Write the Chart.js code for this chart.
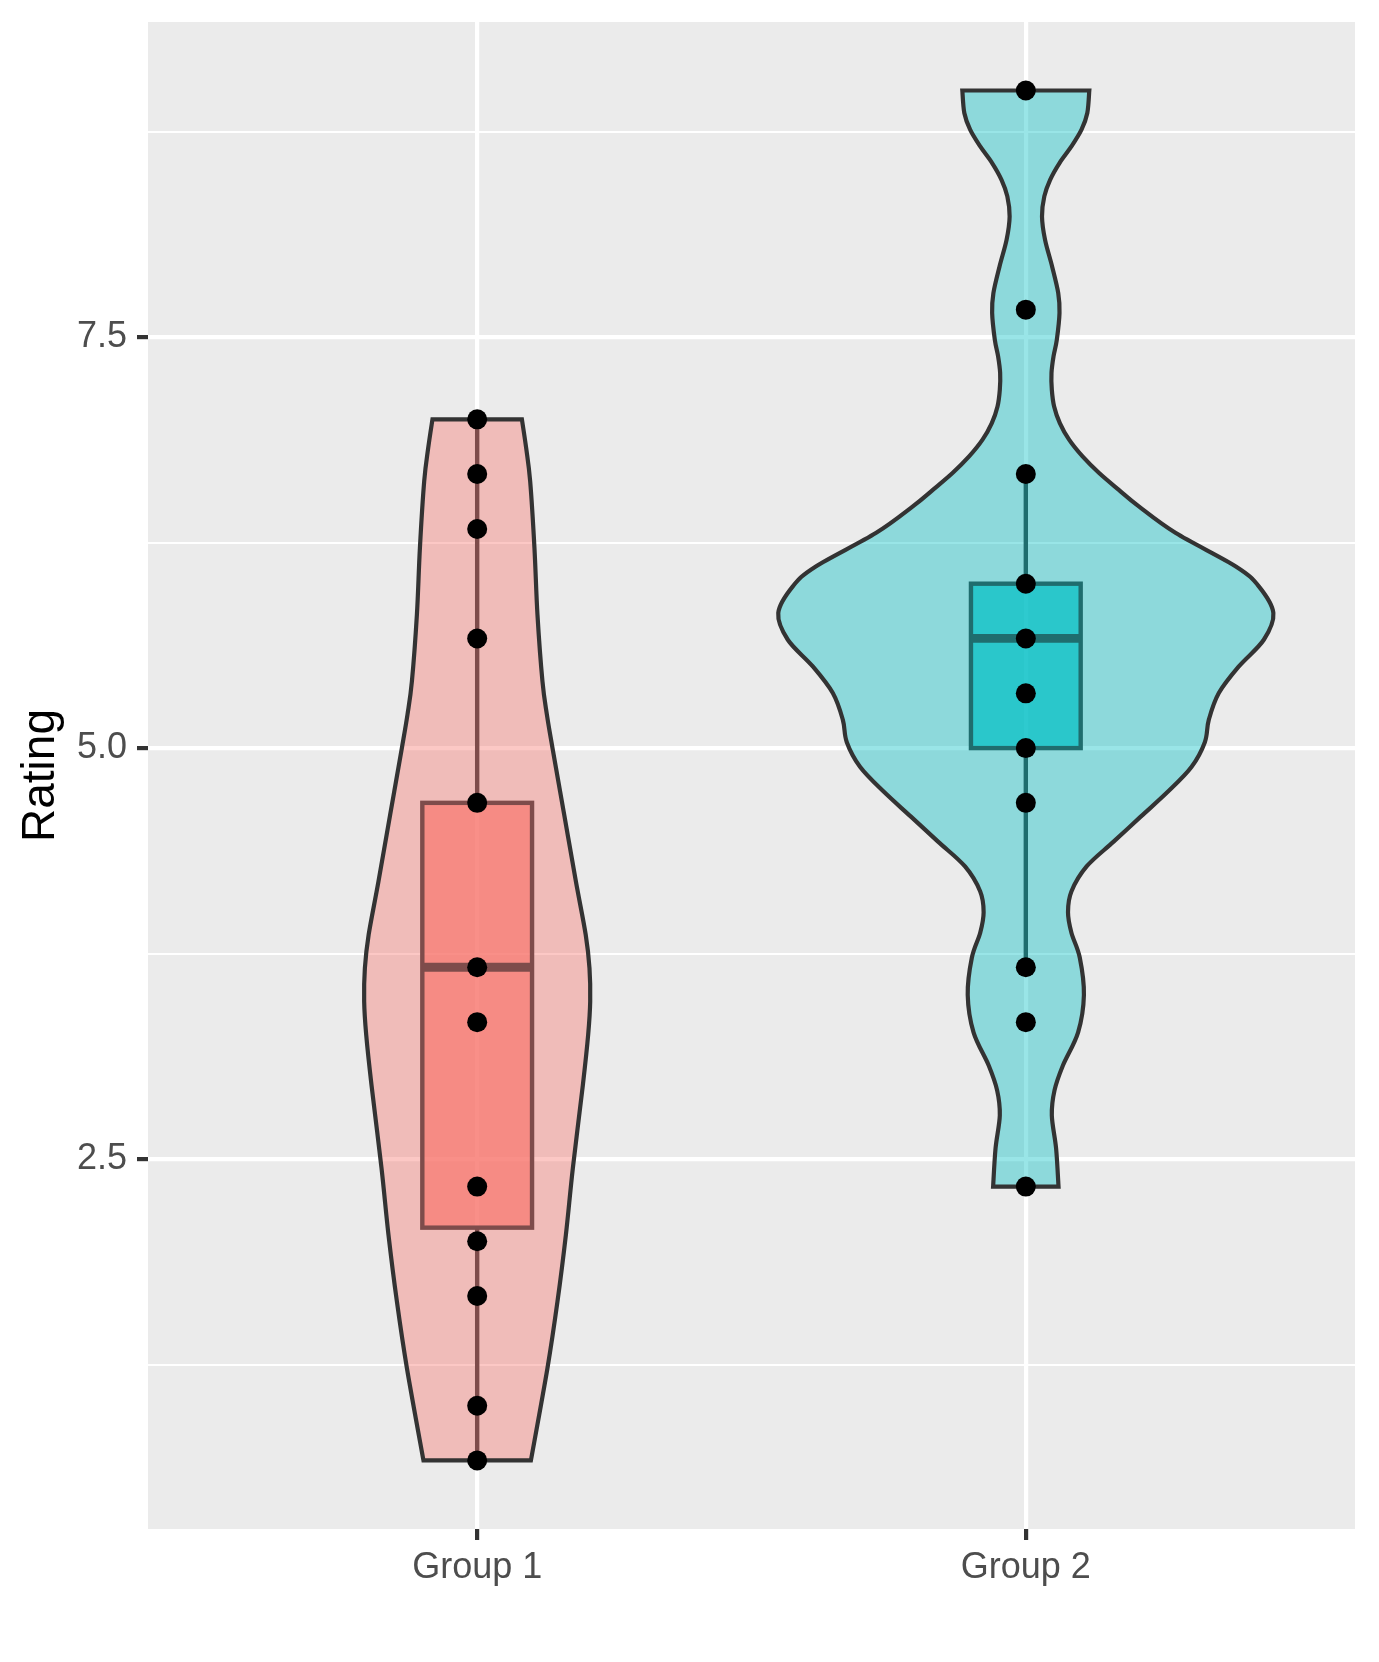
<!DOCTYPE html>
<html><head><meta charset="utf-8">
<script src="https://cdn.jsdelivr.net/npm/chart.js@4.4.1/dist/chart.umd.min.js"></script>
<style>html,body{margin:0;padding:0;background:#fff}canvas{display:block}</style>
</head><body>
<canvas id="c" width="1379" height="1662"></canvas>
<script>
// ---------- data ----------
const categories = ['Group 1', 'Group 2'];
const group1Ratings = [7, 6.667, 6.333, 5.667, 4.667, 3.667, 3.333, 2.333, 2, 1.667, 1, 0.667];
const group2Ratings = [9, 7.667, 6.667, 6, 5.667, 5.333, 5, 4.667, 3.667, 3.333, 2.333];

// box plot statistics per group
const whiskerLow  = [0.667, 3.667];
const quartile1   = [2.083, 5.0];
const medians     = [3.667, 5.667];
const quartile3   = [4.667, 6.0];
const whiskerHigh = [7.0, 6.667];

// violin outlines: rating level and half width (in category units)
const violin1Levels = [7.0, 6.825, 6.622, 6.217, 5.811, 5.406, 5.203, 5.0, 4.595, 4.189, 3.865, 3.662, 3.459, 3.257, 2.952, 2.446, 2.04, 1.635, 1.229, 0.667];
const violin1HalfWidths = [0.0815, 0.0893, 0.0966, 0.1044, 0.1099, 0.1190, 0.1271, 0.1373, 0.1586, 0.1799, 0.1978, 0.2047, 0.2060, 0.2023, 0.1927, 0.1744, 0.1617, 0.1464, 0.1281, 0.0979];
const violin2Levels = [9.0, 8.863, 8.762, 8.66, 8.559, 8.457, 8.356, 8.234, 8.093, 7.93, 7.768, 7.647, 7.484, 7.383, 7.282, 7.18, 7.078, 6.977, 6.876, 6.774, 6.673, 6.572, 6.47, 6.308, 6.105, 5.984, 5.822, 5.659, 5.497, 5.335, 5.173, 5.036, 4.885, 4.734, 4.583, 4.431, 4.28, 4.128, 4.002, 3.877, 3.725, 3.498, 3.271, 3.069, 2.918, 2.766, 2.565, 2.333];
const violin2HalfWidths = [0.1157, 0.1121, 0.1015, 0.0831, 0.0614, 0.0443, 0.0337, 0.0295, 0.0350, 0.0479, 0.0591, 0.0614, 0.0565, 0.0505, 0.0468, 0.0474, 0.0516, 0.0620, 0.0789, 0.1034, 0.1336, 0.1690, 0.2060, 0.2734, 0.3828, 0.4247, 0.4512, 0.4338, 0.3883, 0.3518, 0.3336, 0.3263, 0.3019, 0.2587, 0.2094, 0.1600, 0.1108, 0.0831, 0.0769, 0.0831, 0.0984, 0.1059, 0.0953, 0.0676, 0.0523, 0.0474, 0.0552, 0.0596];

// axis ticks
const yGridValues = [1.25, 2.5, 3.75, 5, 6.25, 7.5, 8.75];
const yMajorValues = [2.5, 5, 7.5];
const yMajorLabels = ['2.5', '5.0', '7.5'];
const yRange = [0.25, 9.4167];
const xRange = [0.4, 2.6];
const xTickValues = [1, 2];

// ---------- styles ----------
const FONT = "'Liberation Sans', Arial, Helvetica, sans-serif";
const violinFill = ['rgba(248,118,109,0.4)', 'rgba(0,191,196,0.4)'];
const boxFill = ['rgba(248,118,109,0.7)', 'rgba(0,191,196,0.7)'];
const boxLine = ['#7E4C4B', '#1F6D6E'];
const BOX_HALF = 0.1;

const violins = [
  {levels: violin1Levels, hw: violin1HalfWidths},
  {levels: violin2Levels, hw: violin2HalfWidths}
];

function splineThrough(ctx, p) {
  const n = p.length;
  for (let i = 0; i < n - 1; i++) {
    const p0 = p[Math.max(i - 1, 0)], p1 = p[i], p2 = p[i + 1], p3 = p[Math.min(i + 2, n - 1)];
    const c1x = p1.x + (p2.x - p0.x) / 6, c1y = p1.y + (p2.y - p0.y) / 6;
    const c2x = p2.x - (p3.x - p1.x) / 6, c2y = p2.y - (p3.y - p1.y) / 6;
    ctx.bezierCurveTo(c1x, c1y, c2x, c2y, p2.x, p2.y);
  }
}

const violinPlugin = {
  id: 'violinPlugin',
  beforeDraw(chart) {
    const {ctx, chartArea: a} = chart;
    ctx.save();
    ctx.fillStyle = '#EBEBEB';
    ctx.fillRect(a.left, a.top, a.right - a.left, a.bottom - a.top);
    ctx.restore();
  },
  beforeDatasetsDraw(chart) {
    const {ctx} = chart;
    const xs = chart.scales.x, ys = chart.scales.y;
    ctx.save();
    violins.forEach((vd, i) => {
      const cx = xTickValues[i];
      const left = vd.levels.map((v, k) => ({x: xs.getPixelForValue(cx - vd.hw[k]), y: ys.getPixelForValue(v)}));
      const right = vd.levels.map((v, k) => ({x: xs.getPixelForValue(cx + vd.hw[k]), y: ys.getPixelForValue(v)})).reverse();
      ctx.beginPath();
      ctx.moveTo(left[0].x, left[0].y);
      splineThrough(ctx, left);
      ctx.lineTo(right[0].x, right[0].y);
      splineThrough(ctx, right);
      ctx.closePath();
      ctx.fillStyle = violinFill[i];
      ctx.fill();
      ctx.lineWidth = 4.2;
      ctx.lineJoin = 'miter';
      ctx.strokeStyle = '#333333';
      ctx.stroke();
    });
    // box plots
    for (let i = 0; i < categories.length; i++) {
      const cx = xTickValues[i];
      const px = xs.getPixelForValue(cx);
      const l = xs.getPixelForValue(cx - BOX_HALF), r = xs.getPixelForValue(cx + BOX_HALF);
      const yq1 = ys.getPixelForValue(quartile1[i]), yq3 = ys.getPixelForValue(quartile3[i]);
      const ymed = ys.getPixelForValue(medians[i]);
      const ylo = ys.getPixelForValue(whiskerLow[i]), yhi = ys.getPixelForValue(whiskerHigh[i]);
      ctx.strokeStyle = boxLine[i];
      ctx.lineWidth = 4.4;
      ctx.lineCap = 'butt';
      ctx.beginPath();
      ctx.moveTo(px, yq3); ctx.lineTo(px, yhi);
      ctx.moveTo(px, yq1); ctx.lineTo(px, ylo);
      ctx.stroke();
      ctx.fillStyle = boxFill[i];
      ctx.fillRect(l, yq3, r - l, yq1 - yq3);
      ctx.strokeRect(l, yq3, r - l, yq1 - yq3);
      ctx.lineWidth = 8.8;
      ctx.beginPath();
      ctx.moveTo(l, ymed); ctx.lineTo(r, ymed);
      ctx.stroke();
    }
    ctx.restore();
  }
};

const pointData = [];
group1Ratings.forEach(v => pointData.push({x: xTickValues[0], y: v}));
group2Ratings.forEach(v => pointData.push({x: xTickValues[1], y: v}));

new Chart(document.getElementById('c'), {
  type: 'scatter',
  data: {
    datasets: [{
      label: 'Rating',
      data: pointData,
      pointRadius: 10,
      pointHoverRadius: 10,
      pointBackgroundColor: '#000000',
      pointBorderWidth: 0,
      borderColor: '#000000',
      backgroundColor: '#000000'
    }]
  },
  options: {
    responsive: false,
    animation: false,
    events: [],
    layout: {padding: {top: 22, right: 24, left: 0, bottom: 0}},
    plugins: {legend: {display: false}, tooltip: {enabled: false}},
    scales: {
      x: {
        type: 'linear',
        min: xRange[0], max: xRange[1],
        afterBuildTicks: s => { s.ticks = xTickValues.map(v => ({value: v})); },
        afterFit: s => { s.height = 133; s.paddingLeft = 0; s.paddingRight = 0; },
        border: {display: false},
        grid: {color: '#FFFFFF', lineWidth: 4.2, tickColor: '#333333', tickWidth: 4.2, tickLength: 11},
        ticks: {
          callback: v => categories[xTickValues.indexOf(v)],
          color: '#4D4D4D',
          font: {family: FONT, size: 36},
          padding: 6,
          maxRotation: 0,
          autoSkip: false
        }
      },
      y: {
        type: 'linear',
        min: yRange[0], max: yRange[1],
        afterBuildTicks: s => { s.ticks = yGridValues.map(v => ({value: v})); },
        afterFit: s => { s.width = 148; s.paddingTop = 0; s.paddingBottom = 0; },
        border: {display: false},
        grid: {
          color: '#FFFFFF',
          lineWidth: c => yMajorValues.includes(c.tick && c.tick.value) ? 4.2 : 2.1,
          tickColor: c => yMajorValues.includes(c.tick && c.tick.value) ? '#333333' : 'rgba(0,0,0,0)',
          tickWidth: 4.2,
          tickLength: 11
        },
        ticks: {
          callback: v => { const k = yMajorValues.indexOf(v); return k >= 0 ? yMajorLabels[k] : ''; },
          color: '#4D4D4D',
          font: {family: FONT, size: 36},
          padding: 10,
          autoSkip: false
        },
        title: {
          display: true,
          text: 'Rating',
          color: '#000000',
          font: {family: FONT, size: 46},
          padding: {top: 14, bottom: 0}
        }
      }
    }
  },
  plugins: [violinPlugin]
});
</script>
</body></html>
